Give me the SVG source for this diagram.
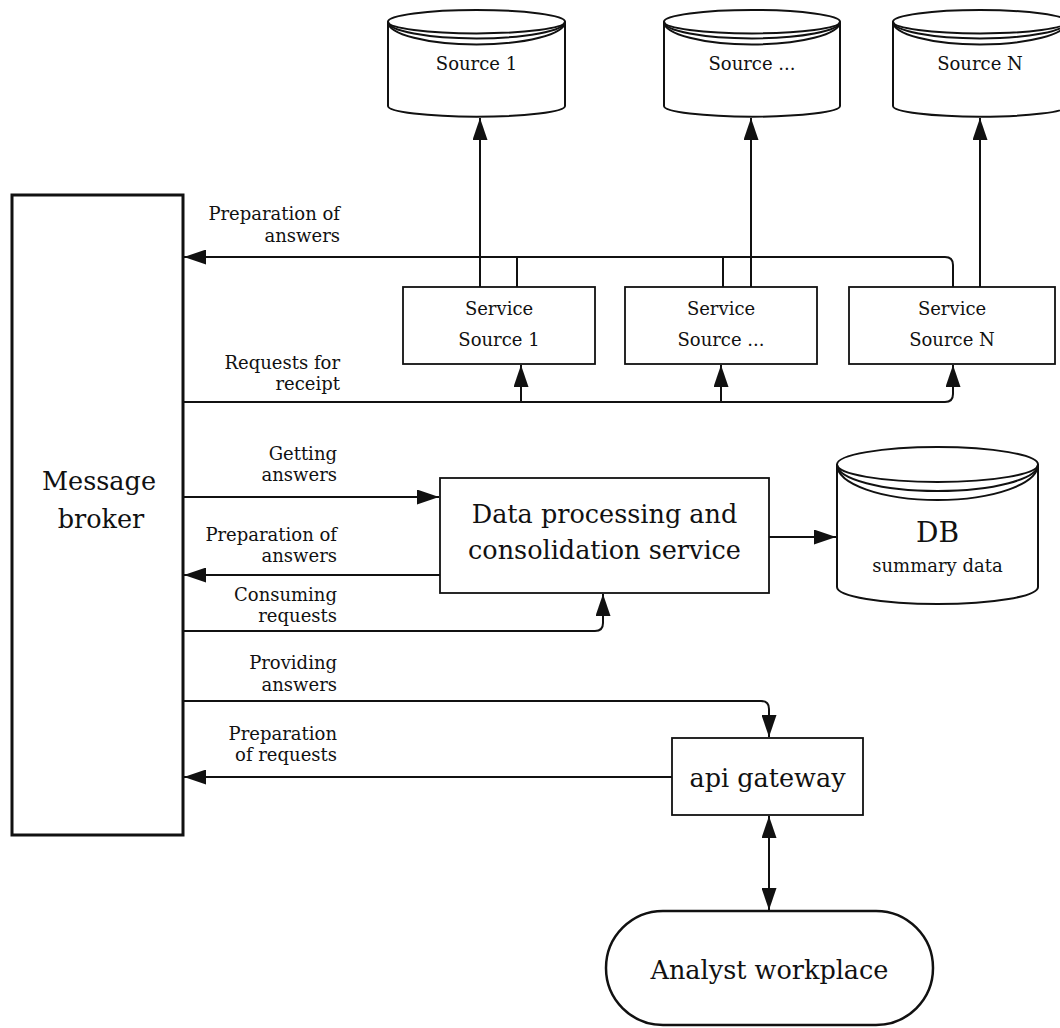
<svg xmlns="http://www.w3.org/2000/svg" width="1060" height="1028" viewBox="0 0 1060 1028">
<defs>
<style>
text{font-family:"DejaVu Serif","Liberation Serif",serif;fill:#111}
.big{font-size:25.5px}
.mid{font-size:18px}
.lbl{font-size:18px;text-anchor:end}
.c{text-anchor:middle}
.box{fill:#fff;stroke:#111;stroke-width:1.8}
.cyl{fill:#fff;stroke:#111;stroke-width:2}
.ln{fill:none;stroke:#111;stroke-width:2}
.edge{fill:none;stroke:#111;stroke-width:2}
</style>
<marker id="ah" viewBox="0 0 22 15" refX="22" refY="7.5" markerWidth="22" markerHeight="15" markerUnits="userSpaceOnUse" orient="auto-start-reverse">
<path d="M0,0 L22,7.5 L0,15 Z" fill="#111"/>
</marker>
</defs>
<rect width="1060" height="1028" fill="#fff"/>

<g id="connectors">
<path class="edge" d="M480,287 V118" marker-end="url(#ah)"/>
<path class="edge" d="M751,287 V118" marker-end="url(#ah)"/>
<path class="edge" d="M980,287 V118" marker-end="url(#ah)"/>
<path class="edge" d="M953,287 V265 Q953,257 945,257 H184" marker-end="url(#ah)"/>
<path class="edge" d="M517,287 V257"/>
<path class="edge" d="M723,287 V257"/>
<path class="edge" d="M184,402 H945 Q953,402 953,394 V365" marker-end="url(#ah)"/>
<path class="edge" d="M521,402 V365" marker-end="url(#ah)"/>
<path class="edge" d="M721,402 V365" marker-end="url(#ah)"/>
<path class="edge" d="M184,497 H439" marker-end="url(#ah)"/>
<path class="edge" d="M440,575 H184" marker-end="url(#ah)"/>
<path class="edge" d="M184,631 H595 Q603,631 603,623 V594" marker-end="url(#ah)"/>
<path class="edge" d="M769,537 H836" marker-end="url(#ah)"/>
<path class="edge" d="M184,701 H761 Q769,701 769,709 V737" marker-end="url(#ah)"/>
<path class="edge" d="M672,777 H184" marker-end="url(#ah)"/>
<path class="edge" d="M769,816 V910" marker-start="url(#ah)" marker-end="url(#ah)"/>

<text class="lbl" x="340" y="220">Preparation of</text>
<text class="lbl" x="340" y="242">answers</text>
<text class="lbl" x="340" y="369">Requests for</text>
<text class="lbl" x="340" y="390">receipt</text>
<text class="lbl" x="337" y="460">Getting</text>
<text class="lbl" x="337" y="481">answers</text>
<text class="lbl" x="337" y="541">Preparation of</text>
<text class="lbl" x="337" y="562">answers</text>
<text class="lbl" x="337" y="601">Consuming</text>
<text class="lbl" x="337" y="622">requests</text>
<text class="lbl" x="337" y="669">Providing</text>
<text class="lbl" x="337" y="691">answers</text>
<text class="lbl" x="337" y="740">Preparation</text>
<text class="lbl" x="337" y="761">of requests</text>
</g>

<g id="broker">
<rect x="12" y="195" width="171" height="640" fill="#fff" stroke="#111" stroke-width="3"/>
<text class="big c" x="99" y="490">Message</text>
<text class="big c" x="101" y="528">broker</text>
</g>

<g id="source1">
<path class="cyl" d="M388,21.7 V106 A88.5,10.7 0 0 0 565,106 V21.7 A88.5,11.7 0 0 0 388,21.7 Z"/>
<path class="ln" d="M388,21.7 A88.5,11.7 0 0 0 565,21.7"/>
<path class="ln" d="M388,21.7 A88.5,16.7 0 0 0 565,21.7"/>
<path class="ln" d="M388,21.7 A88.5,22.7 0 0 0 565,21.7"/>
<text class="mid c" x="476.5" y="70">Source 1</text>
</g>
<g id="source2">
<path class="cyl" d="M664,21.7 V106 A88,10.7 0 0 0 840,106 V21.7 A88,11.7 0 0 0 664,21.7 Z"/>
<path class="ln" d="M664,21.7 A88,11.7 0 0 0 840,21.7"/>
<path class="ln" d="M664,21.7 A88,16.7 0 0 0 840,21.7"/>
<path class="ln" d="M664,21.7 A88,22.7 0 0 0 840,21.7"/>
<text class="mid c" x="752" y="70">Source ...</text>
</g>
<g id="sourceN">
<path class="cyl" d="M893,21.7 V106 A87,10.7 0 0 0 1067,106 V21.7 A87,11.7 0 0 0 893,21.7 Z"/>
<path class="ln" d="M893,21.7 A87,11.7 0 0 0 1067,21.7"/>
<path class="ln" d="M893,21.7 A87,16.7 0 0 0 1067,21.7"/>
<path class="ln" d="M893,21.7 A87,22.7 0 0 0 1067,21.7"/>
<text class="mid c" x="980" y="70">Source N</text>
</g>

<g id="service1">
<rect class="box" x="403" y="287" width="192" height="77"/>
<text class="mid c" x="499" y="315">Service</text>
<text class="mid c" x="499" y="346">Source 1</text>
</g>
<g id="service2">
<rect class="box" x="625" y="287" width="192" height="77"/>
<text class="mid c" x="721" y="315">Service</text>
<text class="mid c" x="721" y="346">Source ...</text>
</g>
<g id="serviceN">
<rect class="box" x="849" y="287" width="206" height="77"/>
<text class="mid c" x="952" y="315">Service</text>
<text class="mid c" x="952" y="346">Source N</text>
</g>

<g id="processing">
<rect class="box" x="440" y="478" width="329" height="115"/>
<text class="big c" x="604.5" y="523">Data processing and</text>
<text class="big c" x="604.5" y="559">consolidation service</text>
</g>

<g id="db">
<path class="cyl" d="M837,464.5 V587 A100.5,17 0 0 0 1038,587 V464.5 A100.5,17.5 0 0 0 837,464.5 Z"/>
<path class="ln" d="M837,464.5 A100.5,17.5 0 0 0 1038,464.5"/>
<path class="ln" d="M837,464.5 A100.5,26.5 0 0 0 1038,464.5"/>
<path class="ln" d="M837,464.5 A100.5,35.5 0 0 0 1038,464.5"/>
<text class="c" x="937.5" y="542" font-size="28">DB</text>
<text class="mid c" x="937.5" y="572">summary data</text>
</g>

<g id="api">
<rect class="box" x="672" y="738" width="191" height="77"/>
<text class="big c" x="767.5" y="787">api gateway</text>
</g>

<g id="analyst">
<rect x="606" y="911" width="327" height="114" rx="57" ry="57" fill="#fff" stroke="#111" stroke-width="2.5"/>
<text class="big c" x="769.5" y="979">Analyst workplace</text>
</g>
</svg>
